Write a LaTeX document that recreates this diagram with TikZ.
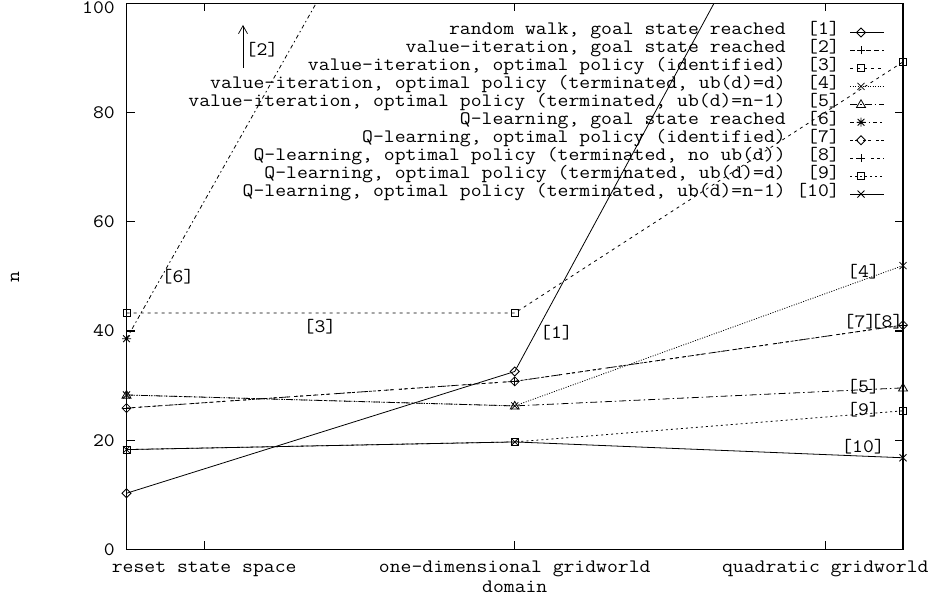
\documentclass[tikz,border=0pt]{standalone}
\usepackage{fontspec}
\setmonofont{Latin Modern Mono}[FakeStretch=1.11]
\usetikzlibrary{plotmarks,arrows.meta}

% point symbols
\pgfdeclareplotmark{mkdiamond}{%
  \pgfpathmoveto{\pgfqpoint{0pt}{\pgfplotmarksize}}%
  \pgfpathlineto{\pgfqpoint{\pgfplotmarksize}{0pt}}%
  \pgfpathlineto{\pgfqpoint{0pt}{-\pgfplotmarksize}}%
  \pgfpathlineto{\pgfqpoint{-\pgfplotmarksize}{0pt}}%
  \pgfpathclose\pgfusepathqstroke}
\pgfdeclareplotmark{mkplus}{%
  \pgfpathmoveto{\pgfqpoint{-\pgfplotmarksize}{0pt}}%
  \pgfpathlineto{\pgfqpoint{\pgfplotmarksize}{0pt}}%
  \pgfpathmoveto{\pgfqpoint{0pt}{-\pgfplotmarksize}}%
  \pgfpathlineto{\pgfqpoint{0pt}{\pgfplotmarksize}}%
  \pgfusepathqstroke}
\pgfdeclareplotmark{mkcross}{%
  \pgfpathmoveto{\pgfqpoint{-\pgfplotmarksize}{-\pgfplotmarksize}}%
  \pgfpathlineto{\pgfqpoint{\pgfplotmarksize}{\pgfplotmarksize}}%
  \pgfpathmoveto{\pgfqpoint{-\pgfplotmarksize}{\pgfplotmarksize}}%
  \pgfpathlineto{\pgfqpoint{\pgfplotmarksize}{-\pgfplotmarksize}}%
  \pgfusepathqstroke}
\pgfdeclareplotmark{mkbox}{%
  \pgfpathrectangle{\pgfqpoint{-\pgfplotmarksize}{-\pgfplotmarksize}}{\pgfqpoint{2\pgfplotmarksize}{2\pgfplotmarksize}}%
  \pgfusepathqstroke}
\pgfdeclareplotmark{mktri}{%
  \pgfpathmoveto{\pgfqpoint{0pt}{\pgfplotmarksize}}%
  \pgfpathlineto{\pgfqpoint{\pgfplotmarksize}{-0.7\pgfplotmarksize}}%
  \pgfpathlineto{\pgfqpoint{-\pgfplotmarksize}{-0.7\pgfplotmarksize}}%
  \pgfpathclose\pgfusepathqstroke}
\pgfdeclareplotmark{mkstar}{%
  \pgfpathmoveto{\pgfqpoint{-\pgfplotmarksize}{0pt}}%
  \pgfpathlineto{\pgfqpoint{\pgfplotmarksize}{0pt}}%
  \pgfpathmoveto{\pgfqpoint{0pt}{-\pgfplotmarksize}}%
  \pgfpathlineto{\pgfqpoint{0pt}{\pgfplotmarksize}}%
  \pgfpathmoveto{\pgfqpoint{-0.75\pgfplotmarksize}{-0.75\pgfplotmarksize}}%
  \pgfpathlineto{\pgfqpoint{0.75\pgfplotmarksize}{0.75\pgfplotmarksize}}%
  \pgfpathmoveto{\pgfqpoint{-0.75\pgfplotmarksize}{0.75\pgfplotmarksize}}%
  \pgfpathlineto{\pgfqpoint{0.75\pgfplotmarksize}{-0.75\pgfplotmarksize}}%
  \pgfusepathqstroke}

\begin{document}
\begin{tikzpicture}[x=1pt,y=1pt,
  txt/.style={font=\ttfamily\fontsize{19}{21}\selectfont, inner sep=0pt},
  frame/.style={line width=1.4pt, line cap=rect},
  ser/.style={line width=0.8pt},
  s1/.style={ser},
  s2/.style={ser, dash pattern=on 5pt off 3pt},
  s3/.style={ser, dash pattern=on 3pt off 4pt},
  s4/.style={ser, dash pattern=on 1pt off 1.5pt},
  s5/.style={ser, dash pattern=on 7pt off 3pt on 1.5pt off 3pt},
  s6/.style={ser, dash pattern=on 4pt off 3pt on 1.5pt off 3pt},
  s7/.style={ser, dash pattern=on 3pt off 2pt on 3pt off 5pt},
  s8/.style={ser, dash pattern=on 3pt off 3pt on 3pt off 3pt on 3pt off 6pt},
  s9/.style={ser, dash pattern=on 2pt off 3pt},
  s10/.style={ser},
  mk/.style={only marks, mark options={solid, line width=0.8pt}},
  m1/.style={mk, mark=mkdiamond, mark size=4.5pt},
  m2/.style={mk, mark=mkplus, mark size=4pt},
  m3/.style={mk, mark=mkbox, mark size=3.5pt},
  m4/.style={mk, mark=mkcross, mark size=3.5pt},
  m5/.style={mk, mark=mktri, mark size=4.5pt},
  m6/.style={mk, mark=mkstar, mark size=4.5pt},
  m7/.style={mk, mark=mkdiamond, mark size=4.5pt},
  m8/.style={mk, mark=mkplus, mark size=4pt},
  m9/.style={mk, mark=mkbox, mark size=3.5pt},
  m10/.style={mk, mark=mkcross, mark size=3.5pt},
  tick/.style={line width=1.2pt}]
\useasboundingbox (0,0) rectangle (930,603);

% data area: x in [0,2], y in [0,100]
\begin{scope}[shift={(126.5,53.5)}, x=388.25pt, y=5.46pt]
  \begin{scope}
    \clip (0,0) rectangle (2,100);
    \draw[s1]  plot coordinates {(0,10.3) (1,32.6) (2,164)};
    \draw[s3]  plot coordinates {(0,43.3) (1,43.3) (2,89.3)};
    \draw[s4]  plot coordinates {(0,28.3) (1,26.3) (2,52.0)};
    \draw[s5]  plot coordinates {(0,28.3) (1,26.3) (2,29.6)};
    \draw[s6]  plot coordinates {(0,38.6) (1,164.4)};
    \draw[s7]  plot coordinates {(0,25.9) (1,30.8) (2,41.1)};
    \draw[s8]  plot coordinates {(0,25.9) (1,30.8) (2,41.1)};
    \draw[s9]  plot coordinates {(0,18.3) (1,19.7) (2,25.4)};
    \draw[s10] plot coordinates {(0,18.3) (1,19.7) (2,16.8)};
  \end{scope}
  \draw[m1]  plot coordinates {(0,10.3) (1,32.6)};
  \draw[m3]  plot coordinates {(0,43.3) (1,43.3) (2,89.3)};
  \draw[m4]  plot coordinates {(0,28.3) (1,26.3) (2,52.0)};
  \draw[m5]  plot coordinates {(0,28.3) (1,26.3) (2,29.6)};
  \draw[m6]  plot coordinates {(0,38.6)};
  \draw[m7]  plot coordinates {(0,25.9) (1,30.8) (2,41.1)};
  \draw[m8]  plot coordinates {(0,25.9) (1,30.8) (2,41.1)};
  \draw[m9]  plot coordinates {(0,18.3) (1,19.7) (2,25.4)};
  \draw[m10] plot coordinates {(0,18.3) (1,19.7) (2,16.8)};
\end{scope}

% border and tics
\draw[frame] (126.5,53.5) rectangle (903,599.5);
\foreach \yy in {53.5, 162.7, 271.9, 381.1, 490.3, 599.5} {
  \draw[tick] (126.5,\yy) -- ++(8,0);
  \draw[tick] (903,\yy) -- ++(-8,0);
}
\foreach \yy/\v in {53.5/0, 162.7/20, 271.9/40, 381.1/60, 490.3/80, 595/100} {
  \node[txt, anchor=east] (ytl\v) at (115,\yy) {\v};
}
\foreach \xx in {204.2, 514.75, 825.3} {
  \draw[tick] (\xx,53.5) -- ++(0,8);
  \draw[tick] (\xx,599.5) -- ++(0,-8);
}
\node[txt, anchor=mid] (xt1) at (204.2,33) {reset state space};
\node[txt, anchor=mid] (xt2) at (514.75,33) {one-dimensional gridworld};
\node[txt, anchor=mid] (xt3) at (825.3,33) {quadratic gridworld};
\node[txt, anchor=mid] (xlab) at (514.75,13) {domain};
\node[txt, rotate=90] (ylab) at (15,326) {n};

% key
\foreach \k/\t in {
  1/{random walk, goal state reached},
  2/{value-iteration, goal state reached},
  3/{value-iteration, optimal policy (identified)},
  4/{value-iteration, optimal policy (terminated, ub(d)=d)},
  5/{value-iteration, optimal policy (terminated, ub(d)=n-1)},
  6/{Q-learning, goal state reached},
  7/{Q-learning, optimal policy (identified)},
  8/{Q-learning, optimal policy (terminated, no ub(d))},
  9/{Q-learning, optimal policy (terminated, ub(d)=d)},
  10/{Q-learning, optimal policy (terminated, ub(d)=n-1)}} {
  \pgfmathsetmacro{\ky}{570.5-17.95*(\k-1)}
  \node[txt, anchor=mid east] (key\k) at (786,\ky) {\t};
  \node[txt, anchor=mid east] (keyn\k) at (840,\ky) {[\k]};
}
\draw[s1]  (850,570.5) -- (884,570.5);
\draw[s2]  (850,552.55) -- (884,552.55);
\draw[s3]  (850,534.6) -- (884,534.6);
\draw[s4]  (850,516.65) -- (884,516.65);
\draw[s5]  (850,498.7) -- (884,498.7);
\draw[s6]  (850,480.75) -- (884,480.75);
\draw[s7]  (850,462.8) -- (884,462.8);
\draw[s8]  (850,444.85) -- (884,444.85);
\draw[s9]  (850,426.9) -- (884,426.9);
\draw[s10] (850,408.95) -- (884,408.95);
\draw[m1]  plot coordinates {(861,570.5)};
\draw[m2]  plot coordinates {(861,552.55)};
\draw[m3]  plot coordinates {(861,534.6)};
\draw[m4]  plot coordinates {(861,516.65)};
\draw[m5]  plot coordinates {(861,498.7)};
\draw[m6]  plot coordinates {(861,480.75)};
\draw[m7]  plot coordinates {(861,462.8)};
\draw[m8]  plot coordinates {(861,444.85)};
\draw[m9]  plot coordinates {(861,426.9)};
\draw[m10] plot coordinates {(861,408.95)};

% curve labels
\node[txt] (lab1) at (556.5,270.5) {[1]};
\node[txt] (lab3) at (320,276) {[3]};
\node[txt] (lab6) at (178,326) {[6]};
\node[txt] (lab2) at (262,553) {[2]};
\node[txt] (lab4) at (863.5,331) {[4]};
\node[txt] (lab7) at (860,281.3) {[7]};
\node[txt] (lab8) at (887,281.3) {[8]};
\node[txt] (lab5) at (863.5,216.3) {[5]};
\node[txt] (lab9) at (863.5,193.7) {[9]};
\node[txt] (lab10) at (863,156.3) {[10]};
\coordinate (arrS) at (243,535);
\coordinate (arrE) at (243,578);
\draw[line width=0.7pt, -{Straight Barb[length=8pt,width=9pt]}] (arrS) -- (arrE);
\end{tikzpicture}
\end{document}
